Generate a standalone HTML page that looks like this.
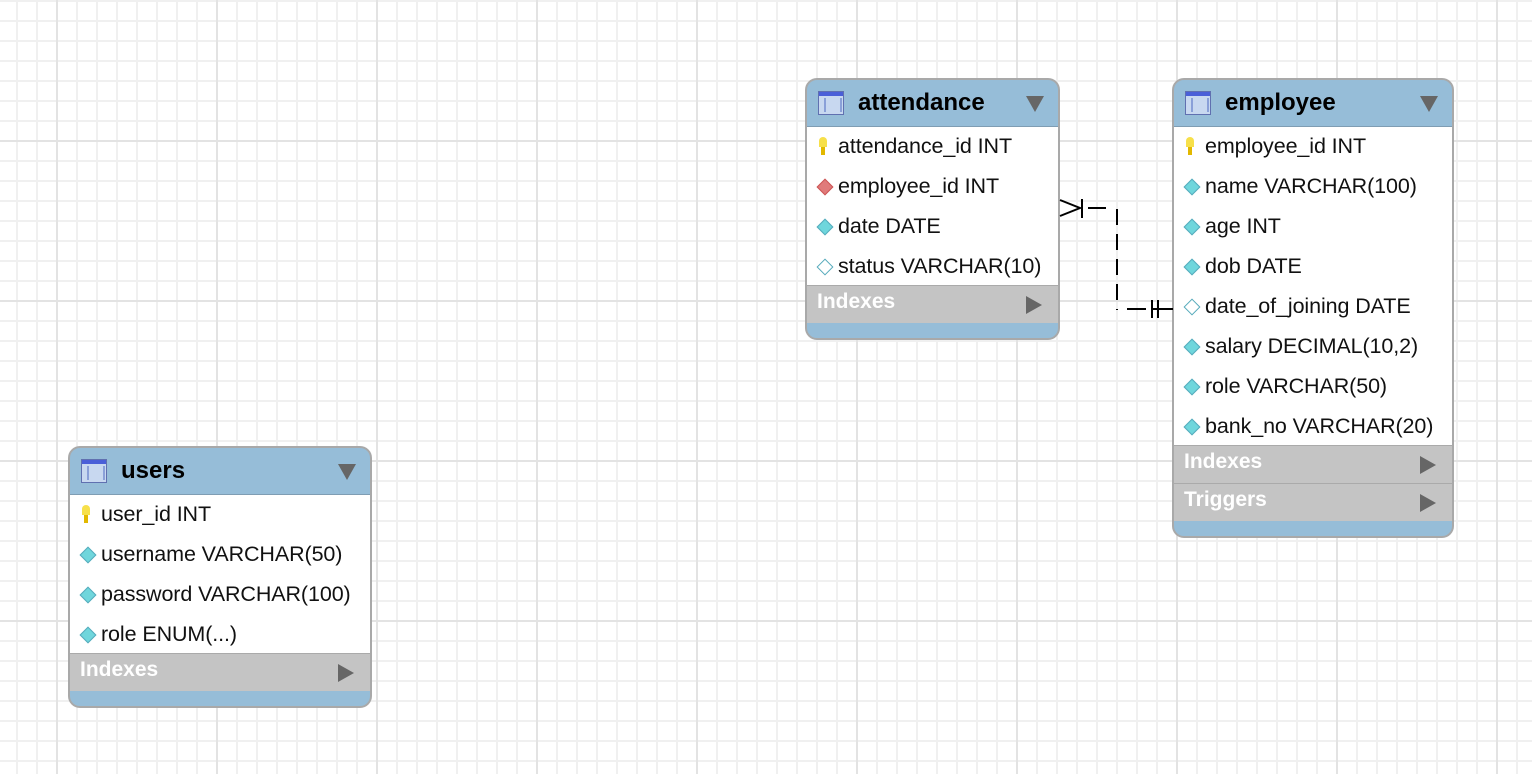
<!DOCTYPE html>
<html><head><meta charset="utf-8"><style>
html,body{margin:0;padding:0}
body{width:1532px;height:774px;position:relative;overflow:hidden;background-color:#fff;
background-image:
linear-gradient(to right,#e3e3e3 2px,transparent 2px),
linear-gradient(to bottom,#e3e3e3 2px,transparent 2px),
linear-gradient(to right,#f0f0f0 2px,transparent 2px),
linear-gradient(to bottom,#f0f0f0 2px,transparent 2px);
background-size:160px 160px,160px 160px,20px 20px,20px 20px;
background-position:56px 0,0 140px,16px 0,0 0;
font-family:"Liberation Sans",sans-serif}
.t{position:absolute;border:2px solid #a9a9a9;border-radius:12px;background:#96bdd8;overflow:hidden;box-sizing:border-box}
.h{height:46px;position:relative;border-bottom:1px solid #7f9db3}
.h .ic{position:absolute;left:11px;top:11px;width:26px;height:24px;background:linear-gradient(#4a5fd8 0 4px,#c8d8f0 4px);border:1px solid #6070b0;box-sizing:border-box}
.h .ic:after{content:"";position:absolute;left:5px;top:6px;width:14px;height:14px;border-left:2px solid #8aa0d8;border-right:2px solid #8aa0d8}
.h b{position:absolute;left:51px;top:9px;font-size:24px}
.h .tri{position:absolute;right:14px;top:16px;width:0;height:0;border-left:9px solid transparent;border-right:9px solid transparent;border-top:16px solid #666}
.r{height:40px;background:#fff;position:relative;font-size:21.5px;line-height:38px;padding-left:31px;color:#111;white-space:nowrap;letter-spacing:-0.1px}
.r i{position:absolute;left:12px;top:14px;width:10px;height:10px;transform:rotate(45deg);background:#6fd6dc;border:1px solid #5ab}
.r i.o{background:#fff}
.r i.f{background:#e07a7a;border-color:#c55}
.r i.k{transform:none;left:12px;top:10px;width:8px;height:18px;background:linear-gradient(#f7e04a 0 10px,transparent 10px),linear-gradient(#e2b800,#e2b800) 2px 0/4px 18px no-repeat;border:none;border-radius:4px 4px 1px 1px}
.s{height:37px;background:#c4c4c4;border-top:1px solid #aaa;position:relative;color:#fff;font-weight:bold;font-size:21px;line-height:32px;padding-left:10px}
.s:after{content:"";position:absolute;right:16px;top:10px;border-top:9px solid transparent;border-bottom:9px solid transparent;border-left:16px solid #666}
</style></head><body>

<div class="t" style="left:805px;top:78px;width:255px;height:262px">
<div class="h"><div class="ic"></div><b>attendance</b><div class="tri"></div></div>
<div class="r"><i class="k"></i>attendance_id INT</div>
<div class="r"><i class="f"></i>employee_id INT</div>
<div class="r"><i></i>date DATE</div>
<div class="r" style="height:38px"><i class="o"></i>status VARCHAR(10)</div>
<div class="s">Indexes</div>
</div>

<div class="t" style="left:1172px;top:78px;width:282px;height:460px">
<div class="h"><div class="ic"></div><b>employee</b><div class="tri"></div></div>
<div class="r"><i class="k"></i>employee_id INT</div>
<div class="r"><i></i>name VARCHAR(100)</div>
<div class="r"><i></i>age INT</div>
<div class="r"><i></i>dob DATE</div>
<div class="r"><i class="o"></i>date_of_joining DATE</div>
<div class="r"><i></i>salary DECIMAL(10,2)</div>
<div class="r"><i></i>role VARCHAR(50)</div>
<div class="r" style="height:38px"><i></i>bank_no VARCHAR(20)</div>
<div class="s">Indexes</div>
<div class="s">Triggers</div>
</div>

<div class="t" style="left:68px;top:446px;width:304px;height:262px">
<div class="h"><div class="ic"></div><b>users</b><div class="tri"></div></div>
<div class="r"><i class="k"></i>user_id INT</div>
<div class="r"><i></i>username VARCHAR(50)</div>
<div class="r"><i></i>password VARCHAR(100)</div>
<div class="r" style="height:38px"><i></i>role ENUM(...)</div>
<div class="s">Indexes</div>
</div>

<svg style="position:absolute;left:0;top:0" width="1532" height="774">
<g stroke="#000" stroke-width="2" fill="none">
<path d="M1060 200 L1080 208 L1060 216"/>
<line x1="1082" y1="199" x2="1082" y2="218"/>
<line x1="1088" y1="208" x2="1106" y2="208"/>
<line x1="1117" y1="209" x2="1117" y2="310" stroke-dasharray="16,9"/>
<line x1="1127" y1="309" x2="1146" y2="309"/>
<line x1="1152" y1="300" x2="1152" y2="318"/>
<line x1="1158" y1="300" x2="1158" y2="318"/>
<line x1="1152" y1="309" x2="1173" y2="309"/>
</g></svg>
</body></html>
